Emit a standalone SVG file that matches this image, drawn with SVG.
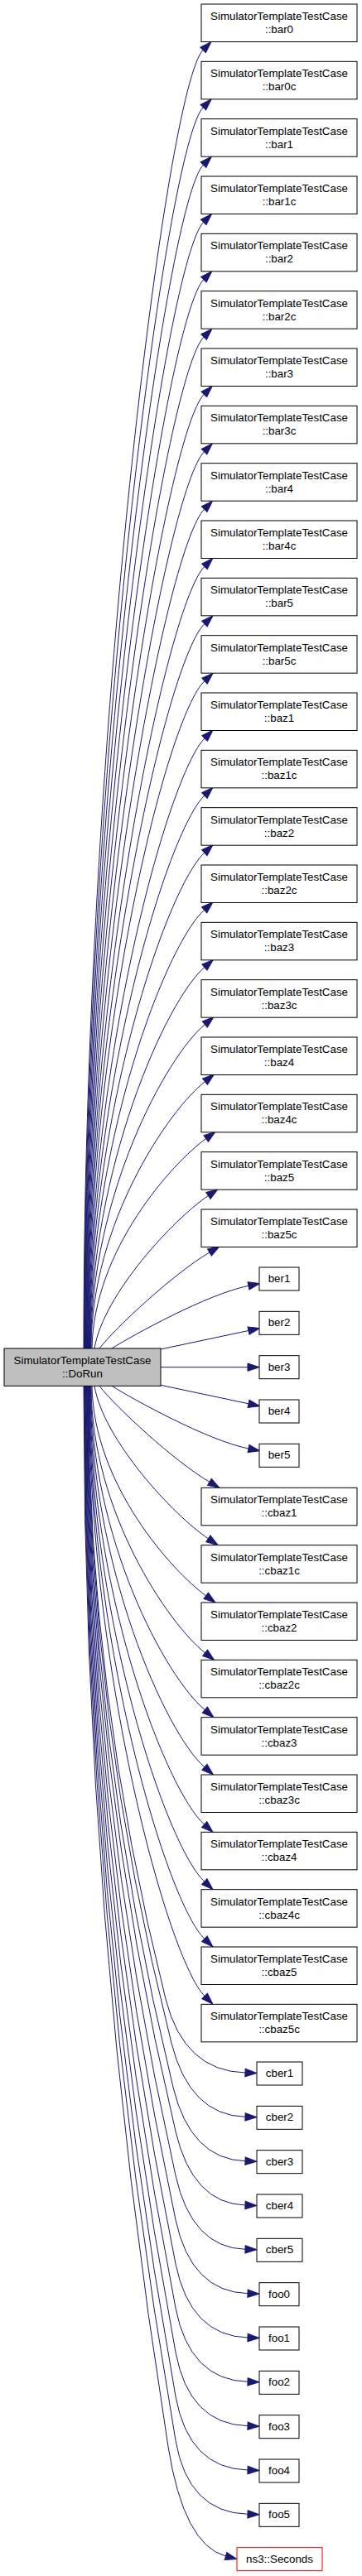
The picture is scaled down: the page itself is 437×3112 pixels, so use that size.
<svg xmlns="http://www.w3.org/2000/svg" width="437" height="3112" viewBox="0 0 437 3112">
<style>
text{font-family:"Liberation Sans",Arial,Helvetica,sans-serif;font-size:13.33px;text-anchor:middle;fill:#000}
.n rect{fill:#fff;stroke:#000;stroke-width:1}
.m rect{fill:#bfbfbf;stroke:#000;stroke-width:1}
.r rect{fill:#fff;stroke:#ff0000;stroke-width:1}
#edges path{fill:none;stroke:#191970;stroke-width:1;marker-end:url(#arr)}
</style>
<defs>
<marker id="arr" markerUnits="userSpaceOnUse" markerWidth="15" markerHeight="11" refX="0" refY="5" orient="auto" viewBox="0 0 15 10" overflow="visible">
<path d="M0,0.3 L14,5 L0,9.7 Z" fill="#191970" stroke="#191970" stroke-width="1"/>
</marker>
</defs>
<rect width="437" height="3112" fill="#fff"/>
<g id="edges">
<path d="M101,1629 C101,891.8 201.3,104.2 245.1,60.4"/>
<path d="M101.5,1629 C101.5,924.3 201.5,173.6 245.3,129.7"/>
<path d="M102,1629 C102,956.9 201.7,242.9 245.5,199.1"/>
<path d="M102.5,1629 C102.5,989.5 201.9,312.2 245.7,268.4"/>
<path d="M103,1629 C103,1022.1 202.1,381.6 245.9,337.7"/>
<path d="M103.5,1629 C103.5,1054.7 202.3,450.9 246.1,407.1"/>
<path d="M104,1629 C104,1087.3 202.5,520.2 246.3,476.4"/>
<path d="M104.5,1629 C104.5,1119.8 202.7,589.6 246.5,545.7"/>
<path d="M105,1629 C105,1152.5 202.9,658.9 246.7,615.1"/>
<path d="M105.5,1629 C105.5,1185 203.1,728.2 246.9,684.4"/>
<path d="M106,1629 C106,1217.6 202.3,796.6 246.9,753.6"/>
<path d="M106.5,1629 C106.5,1250 201.6,865 247,822.7"/>
<path d="M107,1629 C107,1282.6 203.3,935.7 247.1,891.9"/>
<path d="M107.5,1629 C107.5,1315 202.3,1004.1 246.9,961"/>
<path d="M108,1629 C108,1347.6 201.4,1072.5 246.8,1030.2"/>
<path d="M108.5,1629 C108.5,1380.1 200.5,1140.8 246.6,1099.3"/>
<path d="M109,1629 C109,1412.6 200.1,1209.2 246.9,1168.5"/>
<path d="M109.5,1629 C109.5,1445 199.8,1277.5 247.3,1237.6"/>
<path d="M110,1629 C110,1477.5 204.2,1340.5 247.5,1306.6"/>
<path d="M111,1629 C113,1509.9 208.2,1404.9 248.7,1375.5"/>
<path d="M114,1629 C125,1563.33 210,1472.33 251.4,1444.5"/>
<path d="M120,1629 C140,1603.33 210,1538.33 252.9,1513"/>
<path d="M135,1629 C160,1613.33 250,1563.33 300,1553.33"/>
<path d="M194,1630 L300,1607.5"/>
<path d="M194,1651.67 L299,1651.67"/>
<path d="M194,1673.33 L300,1695.8"/>
<path d="M135,1674.33 C160,1690 250,1740 300,1750"/>
<path d="M120,1674.33 C140,1700 210,1765 252.9,1790.3"/>
<path d="M114,1674.33 C125,1740 210,1831 251.4,1858.8"/>
<path d="M111,1674.33 C113,1793.4 208.2,1898.4 248.7,1927.8"/>
<path d="M110,1674.33 C110,1825.8 204.2,1962.8 247.5,1996.7"/>
<path d="M109.5,1674.33 C109.5,1858.3 199.8,2025.8 247.3,2065.7"/>
<path d="M109,1674.33 C109,1890.7 200.1,2094.1 246.9,2134.8"/>
<path d="M108.5,1674.33 C108.5,1923.2 200.5,2162.5 246.6,2204"/>
<path d="M108,1674.33 C108,1955.7 201.4,2230.8 246.8,2273.1"/>
<path d="M107.5,1674.33 C107.5,1988.3 202.3,2299.2 246.9,2342.3"/>
<path d="M107,1674.33 C107,2020.7 203.3,2367.6 247.1,2411.4"/>
<path d="M106.5,1674.33 Q106.5,2044.7 200,2415 Q222,2502 296,2504"/>
<path d="M106,1674.33 Q106,2071.3 207,2468.3 Q229.1,2555.3 296,2557.3"/>
<path d="M105.5,1674.33 Q105.5,2098 209,2521.7 Q230.3,2608.7 296,2610.7"/>
<path d="M105,1674.33 Q105,2124.7 212,2575 Q232.7,2662 296,2664"/>
<path d="M104.5,1674.33 Q104.5,2151.3 212,2628.3 Q231.6,2715.3 296,2717.3"/>
<path d="M104,1674.33 Q104,2178 212,2681.7 Q230.7,2768.7 299,2770.7"/>
<path d="M103.5,1674.33 Q103.5,2204.7 212,2735 Q229.8,2822 299,2824"/>
<path d="M103,1674.33 Q103,2231.3 212,2788.3 Q229,2875.3 299,2877.3"/>
<path d="M102.5,1674.33 Q102.5,2258 212,2841.7 Q228.3,2928.7 299,2930.7"/>
<path d="M102,1674.33 Q102,2284.7 212,2895 Q227.7,2982 299,2984"/>
<path d="M101.5,1674.33 Q101.5,2311.3 212,2948.3 Q227.1,3035.3 299,3037.3"/>
<path d="M101,1674.33 Q101,2315 203,2955.7 Q221.9,3074.5 272.5,3088"/>
</g>
<g id="node-DoRun" class="m"><rect x="5" y="1629" width="189" height="45.33"/><text x="99.5" y="1648">SimulatorTemplateTestCase</text><text x="99.5" y="1664">::DoRun</text></g>
<g id="node-bar0" class="n"><rect x="243" y="5" width="188" height="45.5"/><text x="337" y="24">SimulatorTemplateTestCase</text><text x="337" y="40">::bar0</text></g>
<g id="node-bar0c" class="n"><rect x="243" y="74.33" width="188" height="45.5"/><text x="337" y="93.33">SimulatorTemplateTestCase</text><text x="337" y="109.33">::bar0c</text></g>
<g id="node-bar1" class="n"><rect x="243" y="143.67" width="188" height="45.5"/><text x="337" y="162.67">SimulatorTemplateTestCase</text><text x="337" y="178.67">::bar1</text></g>
<g id="node-bar1c" class="n"><rect x="243" y="213" width="188" height="45.5"/><text x="337" y="232">SimulatorTemplateTestCase</text><text x="337" y="248">::bar1c</text></g>
<g id="node-bar2" class="n"><rect x="243" y="282.33" width="188" height="45.5"/><text x="337" y="301.33">SimulatorTemplateTestCase</text><text x="337" y="317.33">::bar2</text></g>
<g id="node-bar2c" class="n"><rect x="243" y="351.67" width="188" height="45.5"/><text x="337" y="370.67">SimulatorTemplateTestCase</text><text x="337" y="386.67">::bar2c</text></g>
<g id="node-bar3" class="n"><rect x="243" y="421" width="188" height="45.5"/><text x="337" y="440">SimulatorTemplateTestCase</text><text x="337" y="456">::bar3</text></g>
<g id="node-bar3c" class="n"><rect x="243" y="490.33" width="188" height="45.5"/><text x="337" y="509.33">SimulatorTemplateTestCase</text><text x="337" y="525.33">::bar3c</text></g>
<g id="node-bar4" class="n"><rect x="243" y="559.67" width="188" height="45.5"/><text x="337" y="578.67">SimulatorTemplateTestCase</text><text x="337" y="594.67">::bar4</text></g>
<g id="node-bar4c" class="n"><rect x="243" y="629" width="188" height="45.5"/><text x="337" y="648">SimulatorTemplateTestCase</text><text x="337" y="664">::bar4c</text></g>
<g id="node-bar5" class="n"><rect x="243" y="698.33" width="188" height="45.5"/><text x="337" y="717.33">SimulatorTemplateTestCase</text><text x="337" y="733.33">::bar5</text></g>
<g id="node-bar5c" class="n"><rect x="243" y="767.67" width="188" height="45.5"/><text x="337" y="786.67">SimulatorTemplateTestCase</text><text x="337" y="802.67">::bar5c</text></g>
<g id="node-baz1" class="n"><rect x="243" y="837" width="188" height="45.5"/><text x="337" y="856">SimulatorTemplateTestCase</text><text x="337" y="872">::baz1</text></g>
<g id="node-baz1c" class="n"><rect x="243" y="906.33" width="188" height="45.5"/><text x="337" y="925.33">SimulatorTemplateTestCase</text><text x="337" y="941.33">::baz1c</text></g>
<g id="node-baz2" class="n"><rect x="243" y="975.67" width="188" height="45.5"/><text x="337" y="994.67">SimulatorTemplateTestCase</text><text x="337" y="1010.67">::baz2</text></g>
<g id="node-baz2c" class="n"><rect x="243" y="1045" width="188" height="45.5"/><text x="337" y="1064">SimulatorTemplateTestCase</text><text x="337" y="1080">::baz2c</text></g>
<g id="node-baz3" class="n"><rect x="243" y="1114.33" width="188" height="45.5"/><text x="337" y="1133.33">SimulatorTemplateTestCase</text><text x="337" y="1149.33">::baz3</text></g>
<g id="node-baz3c" class="n"><rect x="243" y="1183.67" width="188" height="45.5"/><text x="337" y="1202.67">SimulatorTemplateTestCase</text><text x="337" y="1218.67">::baz3c</text></g>
<g id="node-baz4" class="n"><rect x="243" y="1253" width="188" height="45.5"/><text x="337" y="1272">SimulatorTemplateTestCase</text><text x="337" y="1288">::baz4</text></g>
<g id="node-baz4c" class="n"><rect x="243" y="1322.33" width="188" height="45.5"/><text x="337" y="1341.33">SimulatorTemplateTestCase</text><text x="337" y="1357.33">::baz4c</text></g>
<g id="node-baz5" class="n"><rect x="243" y="1391.67" width="188" height="45.5"/><text x="337" y="1410.67">SimulatorTemplateTestCase</text><text x="337" y="1426.67">::baz5</text></g>
<g id="node-baz5c" class="n"><rect x="243" y="1461" width="188" height="45.5"/><text x="337" y="1480">SimulatorTemplateTestCase</text><text x="337" y="1496">::baz5c</text></g>
<g id="node-ber1" class="n"><rect x="313" y="1531" width="48" height="28"/><text x="337" y="1549">ber1</text></g>
<g id="node-ber2" class="n"><rect x="313" y="1584.33" width="48" height="28"/><text x="337" y="1602.33">ber2</text></g>
<g id="node-ber3" class="n"><rect x="313" y="1637.67" width="48" height="28"/><text x="337" y="1655.67">ber3</text></g>
<g id="node-ber4" class="n"><rect x="313" y="1691" width="48" height="28"/><text x="337" y="1709">ber4</text></g>
<g id="node-ber5" class="n"><rect x="313" y="1744.33" width="48" height="28"/><text x="337" y="1762.33">ber5</text></g>
<g id="node-cbaz1" class="n"><rect x="243" y="1797.33" width="188" height="45.5"/><text x="337" y="1816.33">SimulatorTemplateTestCase</text><text x="337" y="1832.33">::cbaz1</text></g>
<g id="node-cbaz1c" class="n"><rect x="243" y="1866.67" width="188" height="45.5"/><text x="337" y="1885.67">SimulatorTemplateTestCase</text><text x="337" y="1901.67">::cbaz1c</text></g>
<g id="node-cbaz2" class="n"><rect x="243" y="1936" width="188" height="45.5"/><text x="337" y="1955">SimulatorTemplateTestCase</text><text x="337" y="1971">::cbaz2</text></g>
<g id="node-cbaz2c" class="n"><rect x="243" y="2005.33" width="188" height="45.5"/><text x="337" y="2024.33">SimulatorTemplateTestCase</text><text x="337" y="2040.33">::cbaz2c</text></g>
<g id="node-cbaz3" class="n"><rect x="243" y="2074.67" width="188" height="45.5"/><text x="337" y="2093.67">SimulatorTemplateTestCase</text><text x="337" y="2109.67">::cbaz3</text></g>
<g id="node-cbaz3c" class="n"><rect x="243" y="2144" width="188" height="45.5"/><text x="337" y="2163">SimulatorTemplateTestCase</text><text x="337" y="2179">::cbaz3c</text></g>
<g id="node-cbaz4" class="n"><rect x="243" y="2213.33" width="188" height="45.5"/><text x="337" y="2232.33">SimulatorTemplateTestCase</text><text x="337" y="2248.33">::cbaz4</text></g>
<g id="node-cbaz4c" class="n"><rect x="243" y="2282.67" width="188" height="45.5"/><text x="337" y="2301.67">SimulatorTemplateTestCase</text><text x="337" y="2317.67">::cbaz4c</text></g>
<g id="node-cbaz5" class="n"><rect x="243" y="2352" width="188" height="45.5"/><text x="337" y="2371">SimulatorTemplateTestCase</text><text x="337" y="2387">::cbaz5</text></g>
<g id="node-cbaz5c" class="n"><rect x="243" y="2421.33" width="188" height="45.5"/><text x="337" y="2440.33">SimulatorTemplateTestCase</text><text x="337" y="2456.33">::cbaz5c</text></g>
<g id="node-cber1" class="n"><rect x="310" y="2491" width="55" height="28"/><text x="337.5" y="2509">cber1</text></g>
<g id="node-cber2" class="n"><rect x="310" y="2544.33" width="55" height="28"/><text x="337.5" y="2562.33">cber2</text></g>
<g id="node-cber3" class="n"><rect x="310" y="2597.67" width="55" height="28"/><text x="337.5" y="2615.67">cber3</text></g>
<g id="node-cber4" class="n"><rect x="310" y="2651" width="55" height="28"/><text x="337.5" y="2669">cber4</text></g>
<g id="node-cber5" class="n"><rect x="310" y="2704.33" width="55" height="28"/><text x="337.5" y="2722.33">cber5</text></g>
<g id="node-foo0" class="n"><rect x="313" y="2757.67" width="48" height="28"/><text x="337" y="2775.67">foo0</text></g>
<g id="node-foo1" class="n"><rect x="313" y="2811" width="48" height="28"/><text x="337" y="2829">foo1</text></g>
<g id="node-foo2" class="n"><rect x="313" y="2864.33" width="48" height="28"/><text x="337" y="2882.33">foo2</text></g>
<g id="node-foo3" class="n"><rect x="313" y="2917.67" width="48" height="28"/><text x="337" y="2935.67">foo3</text></g>
<g id="node-foo4" class="n"><rect x="313" y="2971" width="48" height="28"/><text x="337" y="2989">foo4</text></g>
<g id="node-foo5" class="n"><rect x="313" y="3024.33" width="48" height="28"/><text x="337" y="3042.33">foo5</text></g>
<g id="node-Seconds" class="r"><rect x="286" y="3077.67" width="103" height="28"/><text x="337.5" y="3095.67">ns3::Seconds</text></g>
</svg>
